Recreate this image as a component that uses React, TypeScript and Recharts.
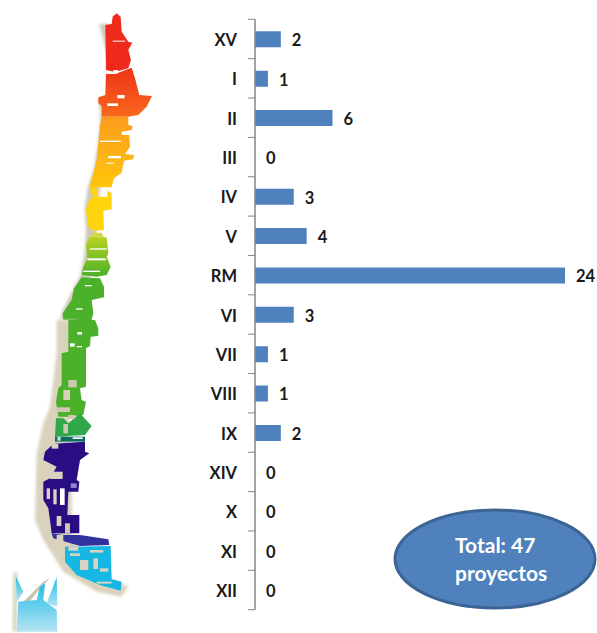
import { Bar, BarChart, LabelList, XAxis, YAxis } from "recharts";

const regions = ["XV", "I", "II", "III", "IV", "V", "RM", "VI", "VII", "VIII", "IX", "XIV", "X", "XI", "XII"];
const projects = [2, 1, 6, 0, 3, 4, 24, 3, 1, 1, 2, 0, 0, 0, 0];
const totalLines = ["Total: 47", "proyectos"];

const chartData = regions.map((region, i) => ({ region, projects: projects[i] }));

const FONT = "Lato, 'Open Sans', sans-serif";
const BAND = (609.7 - 19.3) / regions.length;

// map shapes traced in 3x zoom space, not data
const northHalo = "298,72 330,72 330,285 296,300 302,345 294,430 283,500 264,560 254,625 258,690 254,760 241,825 218,870 186,935 181,960 230,960 250,900 280,800 290,690 300,560 320,400 330,200";
const northShapes = [
  { fill: "#ee2a1e", pts: "350,40 362,50 365,95 385,125 397,128 385,150 393,180 385,205 345,216 318,210 316,75 335,72 338,50" },
  { fill: "url(#redOrange)", pts: "318,222 345,222 395,203 405,235 418,285 456,288 440,320 415,345 385,350 305,350 305,318 295,310 295,292 316,285" },
  { fill: "url(#orangeYellow)", pts: "305,350 385,350 385,375 398,378 395,390 365,395 365,405 388,405 390,440 375,462 402,465 400,478 372,482 365,518 342,535 335,562 268,562 280,520 290,480 295,430 300,380" },
  { fill: "#ffd408", pts: "268,562 290,565 292,590 322,590 322,572 335,580 335,628 310,632 312,690 280,692 265,680 258,630 268,600 280,590" },
  { fill: "#d3da4a", pts: "278,698 305,698 312,712 270,712" },
  { fill: "url(#limeGreen)", pts: "268,712 320,712 325,760 320,770 332,800 320,825 290,830 245,825 250,800 262,775 258,735" },
  { fill: "#4cb02a", pts: "245,832 300,835 312,860 312,892 275,900 280,940 275,960 190,960 188,940 215,900 222,865" },
];

const southHalo = "170,0 230,0 230,100 215,200 205,350 215,500 215,650 290,760 385,800 365,830 290,815 190,755 130,660 105,600 110,400 130,310 150,260 170,100";
const southShapes = [
  { fill: "#4cb02a", pts: "205,0 285,0 295,25 295,48 272,50 270,78 258,85 258,200 240,205 245,240 258,245 250,285 205,290 175,290 168,245 175,205 185,195 185,100 205,95" },
  { fill: "#2fa84a", pts: "168,295 190,295 205,310 240,280 275,318 255,345 165,350" },
  { fill: "#0f6d5d", pts: "165,350 255,350 255,365 165,365" },
  { fill: "#2a0a82", pts: "160,372 205,368 255,365 255,395 268,400 240,420 230,480 238,485 235,515 205,515 202,585 238,585 238,640 155,640 150,600 145,565 130,540 130,485 150,475 170,440 130,420 135,395" },
  { fill: "#32319f", pts: "155,640 190,645 240,645 325,658 328,675 240,678 160,655" },
  { fill: "#12b7e3", pts: "195,680 332,678 335,778 365,785 362,812 300,795 230,765 195,725" },
];
// small gaps that break up the map fill: x, y, w, h, colour
const mapGaps: [number, number, number, number, string][] = [
  [338, 122, 38, 3, "#fff"], [340, 210, 14, 10, "#fff"], [352, 285, 22, 10, "#fff"], [322, 310, 32, 8, "#fff"],
  [300, 422, 62, 4, "#fff"], [325, 468, 38, 7, "#fff"], [318, 488, 24, 3, "#fff"], [270, 745, 50, 4, "#fff"],
  [262, 775, 55, 6, "#fff"], [250, 812, 50, 4, "#fff"], [255, 855, 20, 4, "#fff"], [228, 925, 20, 4, "#fff"],
];
const southGaps: [number, number, number, number, string][] = [
  [232, 36, 14, 8, "#fff"], [210, 70, 14, 10, "#fff"], [230, 78, 16, 4, "#fff"],
  [205, 180, 25, 22, "#cfc8b4"], [190, 210, 20, 30, "#d6cfb9"], [170, 262, 40, 14, "#cfc8b4"],
  [205, 285, 20, 12, "#cfc8b4"], [190, 312, 14, 28, "#cfc8b4"], [218, 352, 30, 5, "#fff"],
  [172, 350, 10, 12, "#bfe0dc"], [155, 372, 20, 14, "#d8d2c0"], [150, 455, 38, 22, "#d8d2c0"],
  [212, 490, 18, 14, "#8f86cf"], [140, 505, 10, 32, "#d8d2c0"], [160, 508, 10, 45, "#d8d2c0"],
  [180, 505, 14, 50, "#fff"], [170, 588, 14, 30, "#d8d2c0"], [195, 610, 15, 30, "#cfc8b4"],
  [170, 645, 20, 20, "#d8d2c0"], [205, 680, 30, 12, "#d8d2c0"], [240, 720, 25, 30, "#d8d2c0"],
  [270, 690, 40, 8, "#d8d2c0"], [280, 715, 14, 32, "#d8d2c0"], [300, 745, 25, 10, "#d8d2c0"],
  [210, 700, 30, 8, "#d8d2c0"], [290, 785, 45, 6, "#d8d2c0"],
];

const insetShapes = [
  { fill: "url(#insetBlue)", pts: "48,770 70,815 50,845" },
  { fill: "url(#insetBlue)", pts: "55,845 110,840 120,800 135,790 130,840 170,870 172,935 50,935" },
  { fill: "url(#insetBlue)", pts: "170,772 172,860 140,850" },
];

function ChileMap() {
  return (
    <svg width={170} height={633} style={{ position: "absolute", left: 0, top: 0 }}>
      <defs>
        <linearGradient id="redOrange" x1="0" y1="0" x2="0" y2="1">
          <stop offset="0%" stopColor="#ee3219" />
          <stop offset="100%" stopColor="#f9691b" />
        </linearGradient>
        <linearGradient id="orangeYellow" x1="0" y1="0" x2="0" y2="1">
          <stop offset="0%" stopColor="#fb9c1c" />
          <stop offset="100%" stopColor="#ffc60e" />
        </linearGradient>
        <linearGradient id="limeGreen" x1="0" y1="0" x2="0" y2="1">
          <stop offset="0%" stopColor="#b5d31f" />
          <stop offset="100%" stopColor="#4cb02a" />
        </linearGradient>
        <linearGradient id="insetBlue" x1="0" y1="0" x2="0" y2="1">
          <stop offset="0%" stopColor="#20bce6" />
          <stop offset="100%" stopColor="#b5e4f3" />
        </linearGradient>
        <filter id="halo" x="-30%" y="-10%" width="160%" height="120%">
          <feGaussianBlur stdDeviation="5" />
        </filter>
        <filter id="soft">
          <feGaussianBlur stdDeviation="1" />
        </filter>
      </defs>
      <g transform="scale(0.3333)">
        <polygon points={northHalo} fill="#cfc8b4" filter="url(#halo)" />
        <g filter="url(#soft)">
          {northShapes.map((s) => (
            <polygon key={s.pts} points={s.pts} fill={s.fill} />
          ))}
          {mapGaps.map(([x, y, w, h, c]) => (
            <rect key={`${x}-${y}`} x={x} y={y} width={w} height={h} fill={c} />
          ))}
        </g>
      </g>
      <g transform="translate(0,320) scale(0.3333)">
        <polygon points={southHalo} fill="#d9d2bd" filter="url(#halo)" />
        <g filter="url(#soft)">
          {southShapes.map((s) => (
            <polygon key={s.pts} points={s.pts} fill={s.fill} />
          ))}
          {southGaps.map(([x, y, w, h, c]) => (
            <rect key={`${x}-${y}`} x={x} y={y} width={w} height={h} fill={c} />
          ))}
        </g>
        <polygon points="40,755 52,760 50,935 38,935" fill="#d9d2bd" filter="url(#halo)" />
        <polygon points="65,850 85,830 130,785 150,775 125,800 85,850 100,930 85,930" fill="#c9c4b0" filter="url(#soft)" />
        {insetShapes.map((s) => (
          <polygon key={s.pts} points={s.pts} fill={s.fill} filter="url(#soft)" />
        ))}
      </g>
    </svg>
  );
}

function RegionTick({ x, y, payload, index }: any) {
  return (
    <g>
      <text x={x - 18} y={y + 7} textAnchor="end" fontFamily={FONT} fontSize={16.5} fontWeight={700} fill="#1a1a1a">
        {payload.value}
      </text>
      <line x1={x - 7} x2={x} y1={y - BAND / 2} y2={y - BAND / 2} stroke="#868686" />
      {index === regions.length - 1 && (
        <line x1={x - 7} x2={x} y1={y + BAND / 2} y2={y + BAND / 2} stroke="#868686" />
      )}
    </g>
  );
}

export default function App() {
  return (
    <div style={{ position: "absolute", left: 0, top: 0, width: 597, height: 633, background: "#fff", overflow: "hidden" }}>
      <ChileMap />
      <div style={{ position: "absolute", left: 0, top: 0 }}>
        <BarChart
          width={597}
          height={633}
          data={chartData}
          layout="vertical"
          barCategoryGap="20%"
          margin={{ top: 19.3, right: 32, bottom: 23.3, left: 195 }}
        >
          <XAxis type="number" domain={[0, 24]} hide />
          <YAxis
            type="category"
            dataKey="region"
            width={60}
            interval={0}
            tickLine={false}
            tickSize={0}
            tickMargin={0}
            axisLine={{ stroke: "#868686", strokeWidth: 1.5 }}
            tick={<RegionTick />}
          />
          <Bar dataKey="projects" fill="#4f81bd" barSize={16} minPointSize={0.01} isAnimationActive={false}>
            <LabelList
              dataKey="projects"
              position="right"
              offset={11}
              fontFamily={FONT}
              fontSize={16.5}
              fontWeight={700}
              fill="#1a1a1a"
              dy={1}
            />
          </Bar>
        </BarChart>
      </div>
      <svg width={597} height={633} style={{ position: "absolute", left: 0, top: 0, pointerEvents: "none" }}>
        <ellipse cx={495} cy={559} rx={100} ry={49} fill="#4f81bd" stroke="#3c6494" strokeWidth={3} />
        {totalLines.map((line, i) => (
          <text key={line} x={455} y={553 + i * 28} fontFamily={FONT} fontSize={21} fontWeight={700} fill="#fff">
            {line}
          </text>
        ))}
      </svg>
    </div>
  );
}
